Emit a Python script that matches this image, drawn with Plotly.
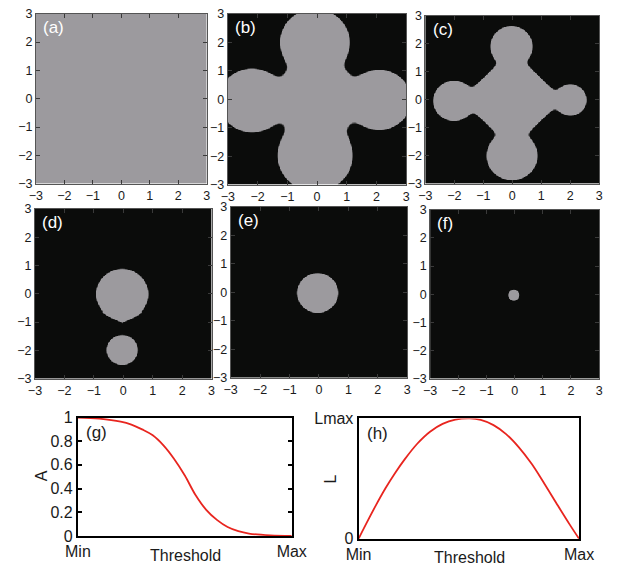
import numpy as np
import plotly.graph_objects as go

W, H = 617, 574

# ---------------------------------------------------------------- data
panel_tags = ["(a)", "(b)", "(c)", "(d)", "(e)", "(f)"]

# regions lying above the threshold in each map panel:
# panel index, primitive, centre x, centre y,
# horizontal radius / half-diagonal, vertical radius / half-diagonal
region_panel = [0, 1, 1, 1, 1, 1, 2, 2, 2, 2, 2, 3, 3, 3, 4, 5]
region_kind = ["plane",
               "disc", "disc", "disc", "disc", "disc",
               "diamond", "disc", "disc", "disc", "disc",
               "disc", "diamond", "disc",
               "disc",
               "disc"]
region_x = [0.0, 0.0, -0.07, 2.10, -0.06, -2.19,
            0.0, -0.02, 2.02, 0.0, -2.01,
            -0.03, -0.03, -0.03,
            -0.04,
            -0.04]
region_y = [0.0, 0.0, 2.00, -0.03, -2.00, -0.05,
            0.0, 1.90, -0.02, -2.02, -0.05,
            -0.02, -0.68, -2.00,
            -0.03,
            -0.04]
region_r = [0.0, 1.35, 1.17, 1.06, 1.26, 1.12,
            1.76, 0.73, 0.56, 0.88, 0.72,
            0.89, 0.60, 0.53,
            0.70,
            0.20]
region_h = [0.0, 1.35, 1.17, 1.06, 1.26, 1.12,
            1.76, 0.73, 0.56, 0.88, 0.72,
            0.89, 0.35, 0.53,
            0.70,
            0.20]
panel_blend = [0.05, 0.18, 0.10, 0.06, 0.05, 0.05]

map_ticks = [-3, -2, -1, 0, 1, 2, 3]

# area fraction A versus normalised threshold
g_threshold = [0.0, 0.1, 0.2, 0.25, 0.3, 0.35, 0.4, 0.45, 0.5,
               0.55, 0.6, 0.65, 0.7, 0.75, 0.8, 0.9, 1.0]
g_area = [1.0, 0.99, 0.965, 0.94, 0.90, 0.85, 0.765, 0.65, 0.51,
          0.345, 0.22, 0.135, 0.075, 0.04, 0.02, 0.005, 0.0]

# boundary length L (relative to Lmax) versus normalised threshold
h_threshold = [0.0, 0.036, 0.079, 0.122, 0.165, 0.209, 0.266, 0.324, 0.381,
               0.439, 0.504, 0.554, 0.612, 0.669, 0.727, 0.784, 0.842,
               0.899, 0.957, 1.0]
h_length = [0.0, 0.13, 0.28, 0.42, 0.545, 0.66, 0.79, 0.89, 0.955,
            0.99, 1.0, 0.988, 0.945, 0.87, 0.76, 0.625, 0.46,
            0.29, 0.12, 0.0]

g_yticks = [0, 0.2, 0.4, 0.6, 0.8, 1]
g_yticktext = ["0", "0.2", "0.4", "0.6", "0.8", "1"]
h_yticks = [0, 1]
h_yticktext = ["0", "Lmax"]
x_ticks = [0, 1]
x_ticktext = ["Min", "Max"]

# ---------------------------------------------------------------- layout (pixels)
map_left = [24, 225, 432, 23, 228, 437]
map_right = [203, 412, 614, 208, 413, 614]
map_top = [6, 6, 8, 207, 205, 208]
map_bottom = [181, 182, 181, 382, 381, 382]

curve_left = [68, 362]
curve_right = [292, 593]
curve_top = [422, 423]
curve_bottom = [544, 547]

FONT = "Liberation Sans, Arial, sans-serif"
DARK = "#0b0c0b"
GREY = "#9c9a9e"
RED = "#e8251f"


def xdom(l, r):
    return [l / W, r / W]


def ydom(t, b):
    return [1 - b / H, 1 - t / H]


# ---------------------------------------------------------------- maps
grid = np.linspace(-3, 3, 281)
X, Y = np.meshgrid(grid, grid)
edge = 6.0 / 185.0


def region_mask(p):
    dists = []
    for i, pi in enumerate(region_panel):
        if pi != p:
            continue
        cx, cy = region_x[i], region_y[i]
        rx, ry = region_r[i], region_h[i]
        kind = region_kind[i]
        if kind == "plane":
            d = -np.ones_like(X)
        elif kind == "disc":
            d = np.hypot(X - cx, Y - cy) - rx
        else:
            d = ((np.abs(X - cx) / rx + np.abs(Y - cy) / ry - 1)
                 / np.hypot(1 / rx, 1 / ry))
        dists.append(d)
    D = np.stack(dists)
    k = panel_blend[p]
    m = D.min(axis=0)
    sd = m - k * np.log(np.exp(-(D - m) / k).sum(axis=0))
    return np.clip(0.5 - sd / edge, 0, 1).astype(np.float32)


fig = go.Figure()
layout = {}
annotations = []

for p in range(6):
    n = p + 1
    xa = "x" if n == 1 else f"x{n}"
    ya = "y" if n == 1 else f"y{n}"
    fig.add_trace(go.Heatmap(
        x=grid, y=grid, z=region_mask(p),
        colorscale=[[0, DARK], [1, GREY]], zmin=0, zmax=1,
        showscale=False, hoverinfo="skip", xaxis=xa, yaxis=ya))
    common = dict(range=[-3, 3], tickvals=map_ticks, ticks="inside",
                  ticklen=4, tickcolor="#3a3a3a", tickwidth=1,
                  showline=True, linecolor="#555555", linewidth=1,
                  mirror="ticks", showgrid=False, zeroline=False,
                  tickfont=dict(family=FONT, size=12.5, color="#1a1a1a"))
    layout[f"xaxis{n if n > 1 else ''}"] = dict(
        domain=xdom(map_left[p], map_right[p]), anchor=ya, **common)
    layout[f"yaxis{n if n > 1 else ''}"] = dict(
        domain=ydom(map_top[p], map_bottom[p]), anchor=xa, **common)
    annotations.append(dict(
        text=panel_tags[p], xref=f"{xa} domain", yref=f"{ya} domain",
        x=0.03, y=0.985, xanchor="left", yanchor="top", showarrow=False,
        font=dict(family=FONT, size=17, color="white")))

# ---------------------------------------------------------------- curves
curves = [(g_threshold, g_area, g_yticks, g_yticktext, "(g)", "A"),
          (h_threshold, h_length, h_yticks, h_yticktext, "(h)", "L")]
for j, (xs, ys, yt, ytt, tag, ylab) in enumerate(curves):
    n = 7 + j
    xa, ya = f"x{n}", f"y{n}"
    fig.add_trace(go.Scatter(
        x=xs, y=ys, mode="lines", line=dict(color=RED, width=1.8,
                                            shape="spline", smoothing=1.0),
        hoverinfo="skip", xaxis=xa, yaxis=ya))
    layout[f"xaxis{n}"] = dict(
        domain=xdom(curve_left[j], curve_right[j]), anchor=ya,
        range=[0, 1], tickvals=x_ticks, ticktext=x_ticktext, ticks="",
        showline=True, linecolor="black", linewidth=2, mirror=True,
        showgrid=False, zeroline=False,
        tickfont=dict(family=FONT, size=16, color="#1a1a1a"))
    layout[f"yaxis{n}"] = dict(
        domain=ydom(curve_top[j], curve_bottom[j]), anchor=xa,
        range=[0, 1], tickvals=yt, ticktext=ytt, ticks="inside",
        ticklen=4, tickwidth=2, tickcolor="black",
        showline=True, linecolor="black", linewidth=2, mirror="ticks",
        showgrid=False, zeroline=False,
        tickfont=dict(family=FONT, size=16, color="#1a1a1a"))
    annotations.append(dict(
        text=tag, xref=f"{xa} domain", yref=f"{ya} domain",
        x=0.03, y=0.97, xanchor="left", yanchor="top", showarrow=False,
        font=dict(family=FONT, size=17, color="#1a1a1a")))
    annotations.append(dict(
        text="Threshold", xref="paper", yref="paper",
        x=[181, 478][j] / W, y=1 - [564, 566][j] / H,
        xanchor="center", yanchor="middle", showarrow=False,
        font=dict(family=FONT, size=16, color="#1a1a1a")))
    annotations.append(dict(
        text=ylab, xref="paper", yref="paper",
        x=[30, 333][j] / W, y=1 - [482, 485][j] / H, textangle=-90,
        xanchor="center", yanchor="middle", showarrow=False,
        font=dict(family=FONT, size=16, color="#1a1a1a")))

fig.update_layout(
    width=W, height=H, margin=dict(l=0, r=0, t=0, b=0),
    paper_bgcolor="white", plot_bgcolor="white", showlegend=False,
    font=dict(family=FONT), annotations=annotations, **layout)

fig.write_html("out.html")
